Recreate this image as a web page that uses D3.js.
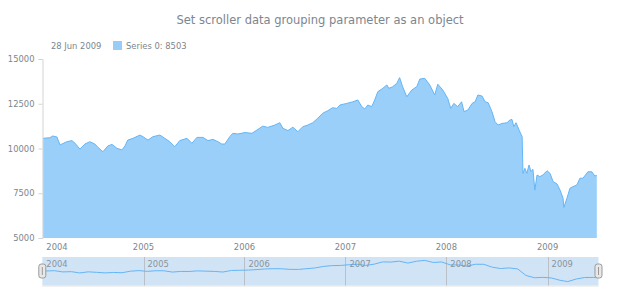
<!DOCTYPE html>
<html>
  <head>
    <title>Scroller grouping</title>
    <script src="https://d3js.org/d3.v7.min.js"></script>
    <style>
      body { margin: 0; background: #fff; }
      text { font-family: Verdana, "DejaVu Sans", sans-serif; }
    </style>
  </head>
  <body>
    <svg width="620" height="300"></svg>
    <script>
    // values
    const dates = [
      '2004-01-03','2004-01-28','2004-02-08','2004-02-23','2004-03-05','2004-03-30','2004-04-17','2004-04-28',
      '2004-05-16','2004-06-03','2004-06-21','2004-07-09','2004-07-20','2004-08-07','2004-08-25','2004-09-09',
      '2004-09-27','2004-10-15','2004-10-26','2004-11-05','2004-11-24','2004-12-19','2004-12-30',
      '2005-01-17','2005-02-04','2005-03-01','2005-03-19','2005-04-06','2005-04-24','2005-05-12','2005-06-07',
      '2005-06-25','2005-07-13','2005-08-04','2005-08-22','2005-09-09','2005-09-27','2005-10-11','2005-10-22',
      '2005-11-09','2005-11-20','2005-12-08',
      '2006-01-03','2006-01-28','2006-02-15','2006-03-08','2006-03-26','2006-04-21','2006-05-09','2006-05-20',
      '2006-06-07','2006-06-25','2006-07-13','2006-07-31','2006-08-18','2006-09-05','2006-09-23','2006-10-11',
      '2006-10-29','2006-11-16','2006-12-01','2006-12-12',
      '2007-01-06','2007-01-28','2007-02-15','2007-03-01','2007-03-12','2007-03-23','2007-04-06','2007-04-17',
      '2007-04-28','2007-05-16','2007-05-31','2007-06-07','2007-06-21','2007-07-06','2007-07-16','2007-07-27',
      '2007-08-11','2007-08-29','2007-09-16','2007-09-27','2007-10-15','2007-11-02','2007-11-20','2007-12-01',
      '2007-12-19',
      '2008-01-06','2008-01-17','2008-01-28','2008-02-11','2008-02-25','2008-03-05','2008-03-19','2008-04-03',
      '2008-04-14','2008-04-24','2008-05-09','2008-05-20','2008-05-31','2008-06-14','2008-06-25','2008-07-06',
      '2008-07-20','2008-08-07','2008-08-18','2008-08-25','2008-09-01','2008-09-09','2008-09-20','2008-10-01',
      '2008-10-04','2008-10-11','2008-10-18','2008-10-26','2008-11-02','2008-11-09','2008-11-16','2008-11-24',
      '2008-12-04','2008-12-15','2008-12-30',
      '2009-01-10','2009-01-21','2009-02-04','2009-02-15','2009-02-26','2009-03-01','2009-03-12','2009-03-23',
      '2009-04-03','2009-04-17','2009-04-28','2009-05-09','2009-05-27','2009-06-10','2009-06-21','2009-06-28'
    ];
    const values = [
      10570,10600,10700,10640,10200,10380,10440,10300,
      9970,10250,10380,10250,10070,9820,10140,10230,
      10010,9920,10140,10470,10570,10750,10660,
      10470,10660,10750,10570,10380,10100,10440,10570,
      10290,10620,10620,10440,10510,10380,10250,10250,
      10660,10850,10810,
      10890,10850,11030,11250,11180,11310,11440,11130,
      11000,11190,10940,11220,11310,11440,11690,11970,
      12110,12280,12240,12430,
      12520,12610,12710,12340,12210,12430,12340,12710,
      13170,13360,13550,13360,13450,13640,13960,13450,
      12890,13270,13450,13880,13920,13550,12990,13590,
      13270,
      12800,12240,12520,12340,12610,12060,12150,12520,
      12610,12990,12930,12610,12560,12060,11500,11310,
      11400,11440,11590,11630,11220,11440,11030,10660,
      8610,8890,8610,9080,8710,8840,7680,8520,
      8430,8520,8760,
      8610,8150,8020,7680,7220,6710,7220,7780,
      7870,7960,8340,8340,8700,8700,8460,8503
    ];
    const yTicks = [5000, 7500, 10000, 12500, 15000];
    const years = [2004, 2005, 2006, 2007, 2008, 2009];
    const title = 'Set scroller data grouping parameter as an object';
    const seriesName = 'Series 0';

    const parse = d3.timeParse('%Y-%m-%d');
    const data = dates.map((d, i) => ({date: parse(d), value: values[i]}));

    const svg = d3.select('svg');
    const grey = '#7c868e';

    const x = d3.scaleTime()
      .domain([new Date(2004, 0, 1), new Date(2009, 5, 28)])
      .range([42.3, 596.8]);
    const y = d3.scaleLinear().domain([5000, 15000]).range([238, 59]);

    // title
    svg.append('text')
      .attr('x', 320).attr('y', 24)
      .attr('text-anchor', 'middle')
      .attr('font-size', 11.5)
      .attr('fill', grey)
      .text(title);

    // legend
    const last = data[data.length - 1];
    svg.append('text')
      .attr('x', 51).attr('y', 49)
      .attr('font-size', 8.4).attr('fill', grey)
      .text(d3.timeFormat('%d %b %Y')(last.date));
    svg.append('rect')
      .attr('x', 113).attr('y', 41).attr('width', 9).attr('height', 9)
      .attr('fill', '#99ccf7');
    svg.append('text')
      .attr('x', 126).attr('y', 49)
      .attr('font-size', 8.4).attr('fill', grey)
      .text(seriesName + ': ' + last.value);

    // area
    const area = d3.area()
      .x(d => x(d.date))
      .y0(y(5000))
      .y1(d => y(d.value));
    const line = d3.line().x(d => x(d.date)).y(d => y(d.value));

    svg.append('path').datum(data)
      .attr('d', area)
      .attr('fill', '#64b5f6').attr('fill-opacity', 0.65);
    svg.append('path').datum(data)
      .attr('d', line)
      .attr('fill', 'none').attr('stroke', '#64b5f6').attr('stroke-width', 1);

    // y axis
    const yAxis = svg.append('g')
      .attr('transform', 'translate(42.5,0)')
      .call(d3.axisLeft(y).tickValues(yTicks).tickFormat(d3.format('d')).tickSize(4).tickPadding(4));
    yAxis.select('.domain').attr('stroke', '#d4d4d4');
    yAxis.selectAll('.tick line').attr('stroke', '#d4d4d4');
    yAxis.selectAll('text').attr('fill', grey).attr('font-size', 8.4)
      .attr('font-family', 'Verdana, "DejaVu Sans", sans-serif');

    // x axis labels (centred on the year, first one kept inside the plot)
    svg.append('g').selectAll('text')
      .data(years).join('text')
      .attr('x', (d, i) => i === 0 ? x(new Date(d, 0, 1)) + 4 : x(new Date(d, 0, 1)))
      .attr('text-anchor', (d, i) => i === 0 ? 'start' : 'middle')
      .attr('y', 250)
      .attr('font-size', 8.4).attr('fill', grey)
      .text(d => d);

    // scroller
    const sTop = 257, sBot = 285.5;
    svg.append('rect')
      .attr('x', x.range()[0]).attr('y', sTop)
      .attr('width', 598.5 - x.range()[0]).attr('height', sBot - sTop)
      .attr('fill', '#1976d2').attr('fill-opacity', 0.2);
    svg.append('line')
      .attr('x1', x.range()[0]).attr('x2', 598.5)
      .attr('y1', sBot + 0.5).attr('y2', sBot + 0.5)
      .attr('stroke', '#e3e3e3');

    svg.append('g').selectAll('line')
      .data(years.slice(1)).join('line')
      .attr('x1', d => Math.round(x(new Date(d, 0, 1))) + 0.5)
      .attr('x2', d => Math.round(x(new Date(d, 0, 1))) + 0.5)
      .attr('y1', sTop).attr('y2', sBot)
      .attr('stroke', '#b9c0c8');

    // grouped (monthly mean) scroller line
    const grouped = d3.rollups(data, v => d3.mean(v, d => d.value), d => d3.timeMonth(d.date))
      .map(([date, value]) => ({date: new Date(+date + 14 * 864e5), value}))
      .sort((a, b) => a.date - b.date);
    grouped.unshift({date: data[0].date, value: data[0].value});
    grouped.push({date: last.date, value: last.value});
    const ys = d3.scaleLinear().domain([6000, 15000]).range([sBot, sTop]);
    svg.append('path').datum(grouped)
      .attr('d', d3.line().x(d => x(d.date)).y(d => ys(d.value)))
      .attr('fill', 'none').attr('stroke', '#64b5f6').attr('stroke-width', 1);

    svg.append('g').selectAll('text')
      .data(years).join('text')
      .attr('x', d => x(new Date(d, 0, 1)) + 4)
      .attr('y', 267)
      .attr('font-size', 8.4).attr('fill', '#8a939b')
      .text(d => d);

    // handles
    [x.range()[0], 598.5].forEach(hx => {
      svg.append('rect')
        .attr('x', hx - 3.5).attr('y', 264).attr('width', 7).attr('height', 14)
        .attr('rx', 2.5)
        .attr('fill', '#e8e8e8').attr('stroke', '#999').attr('stroke-width', 1);
      svg.append('line')
        .attr('x1', hx).attr('x2', hx).attr('y1', 267).attr('y2', 275)
        .attr('stroke', '#999');
    });
    </script>
  </body>
</html>
